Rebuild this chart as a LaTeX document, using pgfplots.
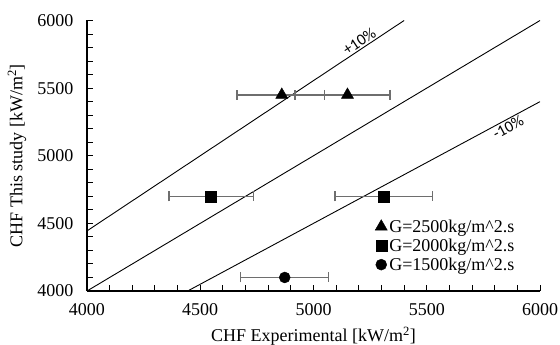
\documentclass[border=0pt]{standalone}
\usepackage{pgfplots}
\pgfplotsset{compat=1.18}
\usepackage{fontspec}
\setmainfont{Liberation Serif}
\newfontfamily\labelfont{Carlito}
\definecolor{errgray}{HTML}{6E6E6E}
\begin{document}
\begin{tikzpicture}
\begin{axis}[
  scale only axis, width=453pt, height=270.5pt,
  xmin=4000, xmax=6000, ymin=4000, ymax=6000,
  axis x line*=bottom, axis y line*=left,
  axis line style={line width=1.6pt, black},
  tick style={line width=1pt, black},
  xtick={4000,4500,5000,5500,6000}, ytick={4000,4500,5000,5500,6000},
  xticklabels={4000,4500,5000,5500,6000},
  yticklabels={4000,4500,5000,5500,6000},
  minor x tick num=4, minor y tick num=4,
  tick align=inside,
  major tick length=6pt, minor tick length=6pt,
  tick label style={font=\rmfamily\fontsize{18}{20}\selectfont},
  yticklabel style={xshift=-10pt},
  xticklabel style={yshift=-9pt},
  xlabel={CHF Experimental [kW/m\textsuperscript{2}]},
  ylabel={CHF This study [kW/m\textsuperscript{2}]},
  every axis x label/.style={at={(axis description cs:0.5,-0.1885)}, anchor=base,
    font=\rmfamily\fontsize{18}{20}\selectfont},
  every axis y label/.style={at={(axis description cs:-0.1545,0.5)}, rotate=90, anchor=center,
    font=\rmfamily\fontsize{18}{20}\selectfont},
  legend style={draw=none, fill=none, at={(0.955,0.056)}, anchor=south east,
    font=\fontsize{18}{20}\selectfont, row sep=1pt},
  legend cell align=left,
  legend image code/.code={\draw[#1] plot coordinates {(0.15cm,0cm)};},
]
\addplot[black, line width=0.9pt, forget plot] coordinates {(4000,4000) (6000,6000)};
\addplot[black, line width=0.9pt, forget plot] coordinates {(4000,4444.4) (5400,6000)};
\addplot[black, line width=0.9pt, forget plot] coordinates {(4444.4,4000) (6000,5400)};

\addplot[only marks, mark=triangle*, black, mark size=7pt,
  error bars/.cd, x dir=both, x explicit,
  error bar style={errgray, line width=1.6pt},
  error mark options={rotate=90, mark size=5pt, errgray, line width=1.3pt}]
  coordinates {(4860,5450) += (190,0) -= (198,0) (5150,5450) += (188,0) -= (232,0)};
\addlegendentry{G=2500kg/m\textasciicircum 2.s}

\addplot[only marks, mark=square*, black, mark size=5.5pt,
  error bars/.cd, x dir=both, x explicit,
  error bar style={errgray, line width=1.6pt},
  error mark options={rotate=90, mark size=5pt, errgray, line width=1.3pt}]
  coordinates {(4546,4700) += (188,0) -= (184,0) (5308,4700) += (217,0) -= (213,0)};
\addlegendentry{G=2000kg/m\textasciicircum 2.s}

\addplot[only marks, mark=*, black, mark size=5.5pt,
  error bars/.cd, x dir=both, x explicit,
  error bar style={errgray, line width=1.6pt},
  error mark options={rotate=90, mark size=5pt, errgray, line width=1.3pt}]
  coordinates {(4873,4100) += (192,0) -= (196,0)};
\addlegendentry{G=1500kg/m\textasciicircum 2.s}

\node[font=\labelfont\fontsize{16}{18}\selectfont, rotate=33.6, anchor=south, inner sep=1.5pt] at (axis cs:5220,5800) {+10\%};
\node[font=\labelfont\fontsize{16}{18}\selectfont, rotate=28.3, anchor=north, inner sep=1.5pt] at (axis cs:5844,5260) {-10\%};
\end{axis}
\pgfresetboundingbox
\path ([shift={(-87pt,-54pt)}]current axis.south west) rectangle ([shift={(20pt,20.5pt)}]current axis.north east);
\end{tikzpicture}
\end{document}
